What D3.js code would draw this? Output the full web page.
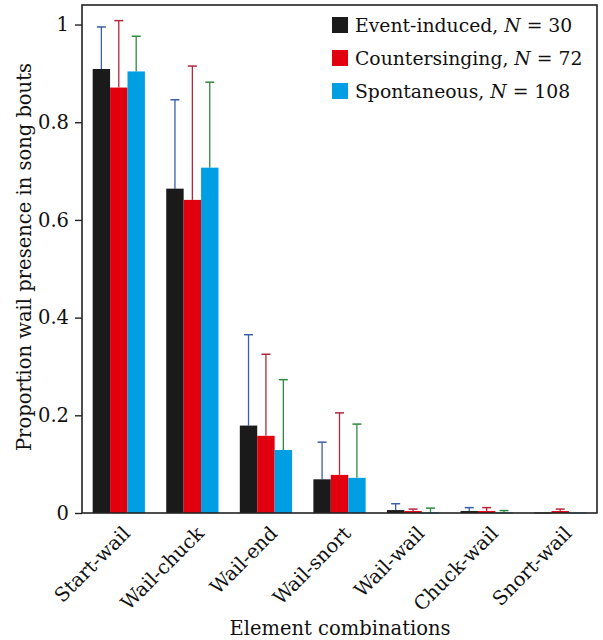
<!DOCTYPE html>
<html>
<head>
<meta charset="utf-8">
<script src="https://cdn.jsdelivr.net/npm/d3@7"></script>
<style>
  body { margin: 0; background: #fff; }
  text { font-family: "DejaVu Serif", serif; fill: #111; }
</style>
</head>
<body>
<svg id="canvas"></svg>
<script>
const svg = d3.select("#canvas");

const W = 603, H = 640;
svg.attr('width', W).attr('height', H);

// data
const categories = ["Start-wail", "Wail-chuck", "Wail-end", "Wail-snort", "Wail-wail", "Chuck-wail", "Snort-wail"];
const seriesNames = ["Event-induced", "Countersinging", "Spontaneous"];
const seriesN = [30, 72, 108];

const eventMean   = [0.909, 0.664, 0.179, 0.069, 0.006, 0.004, 0.001];
const eventSD     = [0.086, 0.182, 0.186, 0.076, 0.013, 0.007, 0.000];
const counterMean = [0.871, 0.641, 0.158, 0.078, 0.004, 0.004, 0.004];
const counterSD   = [0.137, 0.274, 0.167, 0.127, 0.004, 0.007, 0.004];
const spontMean   = [0.904, 0.707, 0.129, 0.072, 0.001, 0.001, 0.001];
const spontSD     = [0.072, 0.175, 0.144, 0.110, 0.009, 0.004, 0.001];

const yTicks = [0, 0.2, 0.4, 0.6, 0.8, 1];

const barColors = ["#1a1a1a", "#e2000f", "#009fe3"];
const errColors = ["#3b5ea8", "#b3283c", "#2f8a3e"];

const means = [eventMean, counterMean, spontMean];
const sds = [eventSD, counterSD, spontSD];

// plot frame
const pLeft = 82, pRight = 597, pTop = 5, pBottom = 513;
const fs = 19.5;

const x = d3.scaleBand()
  .domain(categories)
  .range([pLeft, pRight])
  .paddingInner(0.29)
  .paddingOuter(0.145);

const xs = d3.scaleBand()
  .domain(d3.range(3))
  .range([0, x.bandwidth()]);

const y = d3.scaleLinear()
  .domain([0, 1.04])
  .range([pBottom, pTop]);

// flat list of bars
const bars = [];
categories.forEach((c, i) => {
  for (let s = 0; s < 3; s++) {
    bars.push({ cat: c, s: s, mean: means[s][i], sd: sds[s][i] });
  }
});

const cx = d => x(d.cat) + xs(d.s) + xs.bandwidth() / 2;

// error bars (upper only) drawn behind bars
const eb = svg.append('g');
eb.selectAll('line.stem')
  .data(bars)
  .join('line')
  .attr('class', 'stem')
  .attr('x1', cx)
  .attr('x2', cx)
  .attr('y1', d => y(d.mean))
  .attr('y2', d => y(d.mean + d.sd))
  .attr('stroke', d => errColors[d.s])
  .attr('stroke-width', 1.3);
eb.selectAll('line.cap')
  .data(bars.filter(d => d.sd > 0.002))
  .join('line')
  .attr('class', 'cap')
  .attr('x1', d => cx(d) - 4.5)
  .attr('x2', d => cx(d) + 4.5)
  .attr('y1', d => y(d.mean + d.sd))
  .attr('y2', d => y(d.mean + d.sd))
  .attr('stroke', d => errColors[d.s])
  .attr('stroke-width', 1.5);

svg.append('g').selectAll('rect')
  .data(bars)
  .join('rect')
  .attr('x', d => x(d.cat) + xs(d.s))
  .attr('y', d => y(d.mean))
  .attr('width', xs.bandwidth())
  .attr('height', d => Math.max(1, y(0) - y(d.mean)))
  .attr('fill', d => barColors[d.s]);

// frame
svg.append('rect')
  .attr('x', pLeft).attr('y', pTop)
  .attr('width', pRight - pLeft).attr('height', pBottom - pTop)
  .attr('fill', 'none')
  .attr('stroke', '#222')
  .attr('stroke-width', 1.6);

// y axis
const yAxis = svg.append('g')
  .attr('transform', `translate(${pLeft},0)`)
  .call(d3.axisLeft(y).tickValues(yTicks).tickSize(7).tickPadding(6)
    .tickFormat(d => d === 0 ? "0" : d === 1 ? "1" : d3.format(".1f")(d)));
yAxis.select('.domain').remove();
yAxis.selectAll('line').attr('stroke', '#222').attr('stroke-width', 1.4);
yAxis.selectAll('text')
  .attr('font-family', null)
  .attr('font-size', fs)
  .attr('fill', '#111');

// x labels
svg.append('g').selectAll('text')
  .data(categories)
  .join('text')
  .attr('transform', d => `translate(${x(d) + x.bandwidth() / 2 + 3},${pBottom + 12}) rotate(-45)`)
  .attr('text-anchor', 'end')
  .attr('dy', '0.7em')
  .attr('font-size', fs)
  .text(d => d);

// axis titles
svg.append('text')
  .attr('x', 340).attr('y', 635)
  .attr('text-anchor', 'middle')
  .attr('font-size', fs)
  .text('Element combinations');

svg.append('text')
  .attr('transform', `translate(31,${(62 + 452) / 2}) rotate(-90)`)
  .attr('text-anchor', 'middle')
  .attr('font-size', fs)
  .text('Proportion wail presence in song bouts');

// legend
const lg = svg.append('g').attr('transform', 'translate(332,25)');
const rows = lg.selectAll('g')
  .data(seriesNames)
  .join('g')
  .attr('transform', (d, i) => `translate(0,${i * 33})`);
rows.append('rect')
  .attr('x', 0).attr('y', -8)
  .attr('width', 16).attr('height', 16)
  .attr('fill', (d, i) => barColors[i]);
const lt = rows.append('text')
  .attr('x', 23).attr('y', 0)
  .attr('dy', '0.35em')
  .attr('font-size', 18.8);
lt.append('tspan').text(d => d + ', ');
lt.append('tspan').attr('font-style', 'italic').text('N');
lt.append('tspan').text((d, i) => ' = ' + seriesN[i]);
</script>
</body>
</html>
